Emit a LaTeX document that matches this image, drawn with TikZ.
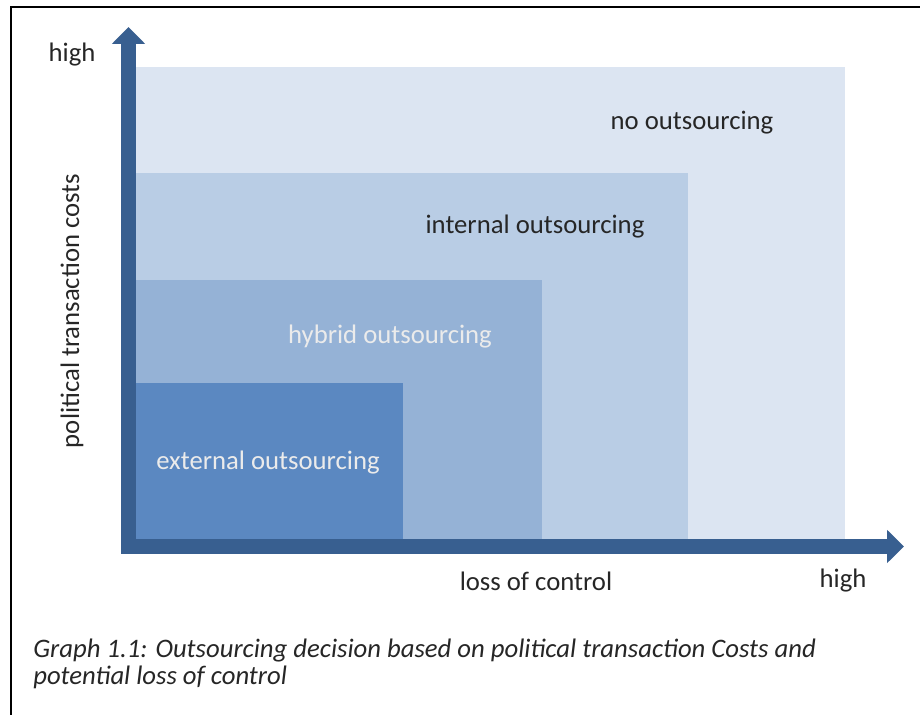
\documentclass[tikz,border=0pt]{standalone}
\usepackage{fontspec}
\setmainfont{Carlito}
\usetikzlibrary{arrows.meta,positioning}
\definecolor{axisblue}{HTML}{385F90}
\definecolor{noblue}{HTML}{DCE5F2}
\definecolor{intblue}{HTML}{B9CDE5}
\definecolor{hybblue}{HTML}{95B2D6}
\definecolor{extblue}{HTML}{5B88C1}

\begin{document}
\begin{tikzpicture}[
    axis/.style={line width=0.375cm, draw=axisblue, -{Triangle[width=0.8cm, length=0.42cm]}},
    label/.style={font=\fontsize{19}{23}\selectfont, inner sep=0pt, text=black!85},
    inlabel/.style={label, text=white!92!black},
    caption/.style={font=\fontsize{19}{19.2}\selectfont\itshape, inner sep=0pt, align=left, anchor=west, text=black!85}
  ]
  \useasboundingbox (0,0) rectangle (23,17.875);

  % Frame
  \draw[line width=1.2pt] (0.275,0) -- (0.275,17.7) -- (23,17.7);

  % Regions
  \fill[noblue] (3.4,4.375) rectangle (21.125,16.2);
  \fill[intblue] (3.4,4.375) rectangle (17.2,13.55);
  \fill[hybblue] (3.4,4.375) rectangle (13.55,10.875);
  \fill[extblue] (3.4,4.375) rectangle (10.075,8.3);

  % Axes
  \coordinate (ybase) at (3.2125,4.05);
  \coordinate (ytip) at (3.2125,17.2);
  \coordinate (xbase) at (3.025,4.2125);
  \coordinate (xtip) at (22.6,4.2125);
  \draw[axis] (ybase) -- (ytip);
  \draw[axis] (xbase) -- (xtip);

  % Axis labels
  \node[label] (yhigh) at (1.8,16.5) {high};
  \node[label, rotate=90] (ylabel) at (1.8,10.1) {political transaction costs};
  \node[label] (xlabel) at (13.4,3.35) {loss of control};
  \node[label] (xhigh) at (21.075,3.35) {high};

  % Region labels
  \node[label] (no) at (17.3,14.8) {no outsourcing};
  \node[label] (internal) at (13.375,12.2) {internal outsourcing};
  \node[inlabel] (hybrid) at (9.75,9.45) {hybrid outsourcing};
  \node[inlabel] (external) at (6.7,6.3) {external outsourcing};

  % Caption
  \node[caption] (cap) at (0.825,1.29) {Graph 1.1: Outsourcing decision based on political transaction Costs and\\potential loss of control};

\end{tikzpicture}
\end{document}
